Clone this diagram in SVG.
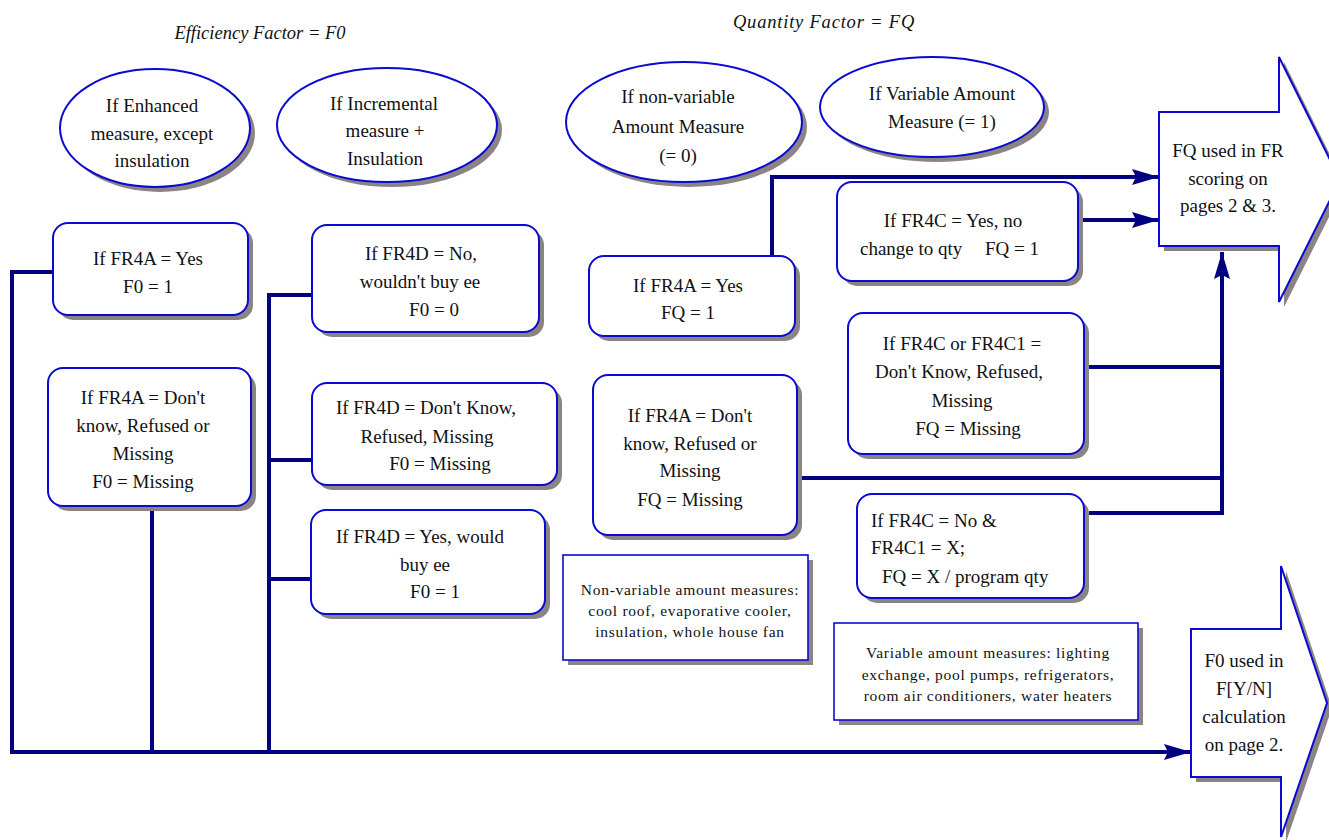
<svg xmlns="http://www.w3.org/2000/svg" width="1329" height="840" viewBox="0 0 1329 840">
  <defs>
    <style>
      .shadow { fill: #8c8484; stroke: none; }
      .node { fill: #ffffff; stroke: #0a0ad2; stroke-width: 2; }
      .note { fill: #ffffff; stroke: #0a0ad2; stroke-width: 1.6; }
      .t { font-family: "Liberation Serif", "Times New Roman", serif; font-size: 19px; fill: #111111; text-anchor: middle; }
      .ts { text-anchor: start; }
      .title { font-family: "Liberation Serif", "Times New Roman", serif; font-size: 18.5px; font-style: italic; fill: #111111; text-anchor: middle; }
      .small { font-family: "Liberation Serif", "Times New Roman", serif; font-size: 15.5px; letter-spacing: 0.7px; fill: #111111; text-anchor: middle; }
      .link { fill: none; stroke: #000080; stroke-width: 4; }
    </style>
    <marker id="arrow" markerUnits="userSpaceOnUse" markerWidth="28" markerHeight="18" refX="27" refY="8" orient="auto">
      <path d="M0,0 L27,8 L0,16 L4,8 z" fill="#000080"/>
    </marker>
  </defs>

  <rect width="1329" height="840" fill="#ffffff"/>

  <!-- section titles -->
  <text class="title" x="260" y="39">Efficiency Factor = F0</text>
  <text class="title" x="824" y="28" letter-spacing="0.8">Quantity Factor = FQ</text>

  <!-- connectors -->
  <g id="connectors">
    <polyline class="link" points="53,272 12,272 12,752 1191,752" marker-end="url(#arrow)"/>
    <line class="link" x1="152" y1="506" x2="152" y2="752"/>
    <polyline class="link" points="312,295 269,295 269,754"/>
    <line class="link" x1="269" y1="460" x2="312" y2="460"/>
    <line class="link" x1="269" y1="579" x2="311" y2="579"/>
    <polyline class="link" points="772,256 772,177 1159,177" marker-end="url(#arrow)"/>
    <line class="link" x1="1083" y1="220" x2="1159" y2="220" marker-end="url(#arrow)"/>
    <line class="link" x1="1089" y1="367" x2="1222" y2="367"/>
    <line class="link" x1="802" y1="478" x2="1222" y2="478"/>
    <line class="link" x1="1089" y1="513" x2="1222" y2="513"/>
    <line class="link" x1="1222" y1="515" x2="1222" y2="252" marker-end="url(#arrow)"/>
  </g>

  <!-- condition ellipses -->
  <g id="ellipse-enhanced">
    <ellipse class="shadow" cx="160" cy="133" rx="95" ry="59"/>
    <ellipse class="node" cx="155" cy="128" rx="95" ry="59"/>
    <text class="t" x="152" y="112">If Enhanced</text>
    <text class="t" x="152" y="140">measure, except</text>
    <text class="t" x="152" y="167">insulation</text>
  </g>
  <g id="ellipse-incremental">
    <ellipse class="shadow" cx="392" cy="130" rx="110" ry="57"/>
    <ellipse class="node" cx="387" cy="125" rx="110" ry="57"/>
    <text class="t" x="384" y="110">If Incremental</text>
    <text class="t" x="385" y="137">measure +</text>
    <text class="t" x="385" y="165">Insulation</text>
  </g>
  <g id="ellipse-nonvariable">
    <ellipse class="shadow" cx="689" cy="127" rx="118" ry="60"/>
    <ellipse class="node" cx="684" cy="122" rx="118" ry="60"/>
    <text class="t" x="678" y="103">If non-variable</text>
    <text class="t" x="678" y="133">Amount Measure</text>
    <text class="t" x="678" y="162">(= 0)</text>
  </g>
  <g id="ellipse-variable">
    <ellipse class="shadow" cx="937" cy="112" rx="112" ry="50"/>
    <ellipse class="node" cx="932" cy="107" rx="112" ry="50"/>
    <text class="t" x="942" y="100">If Variable Amount</text>
    <text class="t" x="942" y="128">Measure (= 1)</text>
  </g>

  <!-- efficiency factor boxes -->
  <g id="box-fr4a-yes-f0">
    <rect class="shadow" x="58" y="228" width="195" height="92" rx="15"/>
    <rect class="node" x="53" y="223" width="195" height="92" rx="15"/>
    <text class="t" x="148" y="265">If FR4A = Yes</text>
    <text class="t" x="148" y="293">F0 = 1</text>
  </g>
  <g id="box-fr4a-missing-f0">
    <rect class="shadow" x="53" y="373" width="203" height="138" rx="15"/>
    <rect class="node" x="48" y="368" width="203" height="138" rx="15"/>
    <text class="t" x="143" y="404">If FR4A = Don't</text>
    <text class="t" x="143" y="432">know, Refused or</text>
    <text class="t" x="143" y="460">Missing</text>
    <text class="t" x="143" y="488">F0 = Missing</text>
  </g>
  <g id="box-fr4d-no">
    <rect class="shadow" x="317" y="230" width="227" height="107" rx="15"/>
    <rect class="node" x="312" y="225" width="227" height="107" rx="15"/>
    <text class="t" x="421" y="260">If FR4D = No,</text>
    <text class="t" x="420" y="288">wouldn't buy ee</text>
    <text class="t" x="434" y="316">F0 = 0</text>
  </g>
  <g id="box-fr4d-missing">
    <rect class="shadow" x="317" y="388" width="245" height="102" rx="15"/>
    <rect class="node" x="312" y="383" width="245" height="102" rx="15"/>
    <text class="t" x="426" y="414">If FR4D = Don't Know,</text>
    <text class="t" x="427" y="443">Refused, Missing</text>
    <text class="t" x="440" y="470">F0 = Missing</text>
  </g>
  <g id="box-fr4d-yes">
    <rect class="shadow" x="316" y="515" width="234" height="104" rx="15"/>
    <rect class="node" x="311" y="510" width="234" height="104" rx="15"/>
    <text class="t" x="420" y="543">If FR4D = Yes, would</text>
    <text class="t" x="425" y="571">buy ee</text>
    <text class="t" x="435" y="598">F0 = 1</text>
  </g>

  <!-- quantity factor boxes -->
  <g id="box-fr4a-yes-fq">
    <rect class="shadow" x="594" y="261" width="206" height="80" rx="15"/>
    <rect class="node" x="589" y="256" width="206" height="80" rx="15"/>
    <text class="t" x="688" y="292">If FR4A = Yes</text>
    <text class="t" x="688" y="319">FQ = 1</text>
  </g>
  <g id="box-fr4a-missing-fq">
    <rect class="shadow" x="598" y="380" width="204" height="160" rx="15"/>
    <rect class="node" x="593" y="375" width="204" height="160" rx="15"/>
    <text class="t" x="690" y="422">If FR4A = Don't</text>
    <text class="t" x="690" y="450">know, Refused or</text>
    <text class="t" x="690" y="477">Missing</text>
    <text class="t" x="690" y="506">FQ = Missing</text>
  </g>
  <g id="box-fr4c-yes">
    <rect class="shadow" x="842" y="187" width="241" height="99" rx="15"/>
    <rect class="node" x="837" y="182" width="241" height="99" rx="15"/>
    <text class="t" x="953" y="227">If FR4C = Yes, no</text>
    <text class="t ts" x="860" y="255">change to qty</text>
    <text class="t ts" x="985" y="255">FQ = 1</text>
  </g>
  <g id="box-fr4c-missing">
    <rect class="shadow" x="853" y="318" width="236" height="141" rx="15"/>
    <rect class="node" x="848" y="313" width="236" height="141" rx="15"/>
    <text class="t" x="962" y="350">If FR4C or FR4C1 =</text>
    <text class="t" x="959" y="378">Don't Know, Refused,</text>
    <text class="t" x="962" y="407">Missing</text>
    <text class="t" x="968" y="435">FQ = Missing</text>
  </g>
  <g id="box-fr4c-no">
    <rect class="shadow" x="862" y="499" width="227" height="104" rx="15"/>
    <rect class="node" x="857" y="494" width="227" height="104" rx="15"/>
    <text class="t ts" x="871" y="527">If FR4C = No &amp;</text>
    <text class="t ts" x="871" y="554">FR4C1 = X;</text>
    <text class="t ts" x="882" y="583">FQ = X / program qty</text>
  </g>

  <!-- notes -->
  <g id="note-nonvariable">
    <rect class="shadow" x="568" y="560" width="245" height="105"/>
    <rect class="note" x="563" y="555" width="245" height="105"/>
    <text class="small" x="690" y="595">Non-variable amount measures:</text>
    <text class="small" x="690" y="616">cool roof, evaporative cooler,</text>
    <text class="small" x="690" y="637">insulation, whole house fan</text>
  </g>
  <g id="note-variable">
    <rect class="shadow" x="839" y="628" width="304" height="97"/>
    <rect class="note" x="834" y="623" width="304" height="97"/>
    <text class="small" x="988" y="658">Variable amount measures: lighting</text>
    <text class="small" x="988" y="680">exchange, pool pumps, refrigerators,</text>
    <text class="small" x="988" y="701">room air conditioners, water heaters</text>
  </g>

  <!-- outcome arrows -->
  <g id="outcome-fq">
    <polygon class="shadow" points="1164,117 1284,117 1284,62 1345,185 1284,307 1284,251 1164,251"/>
    <polygon class="node" points="1159,112 1279,112 1279,57 1340,180 1279,302 1279,246 1159,246"/>
    <text class="t" x="1228" y="157">FQ used in FR</text>
    <text class="t" x="1228" y="185">scoring on</text>
    <text class="t" x="1228" y="212">pages 2 &amp; 3.</text>
  </g>
  <g id="outcome-f0">
    <polygon class="shadow" points="1196,634 1286,634 1286,571 1332,708 1286,842 1286,782 1196,782"/>
    <polygon class="node" points="1191,629 1281,629 1281,566 1327,703 1281,837 1281,777 1191,777"/>
    <text class="t" x="1244" y="667">F0 used in</text>
    <text class="t" x="1244" y="695">F[Y/N]</text>
    <text class="t" x="1244" y="723">calculation</text>
    <text class="t" x="1244" y="751">on page 2.</text>
  </g>
</svg>
